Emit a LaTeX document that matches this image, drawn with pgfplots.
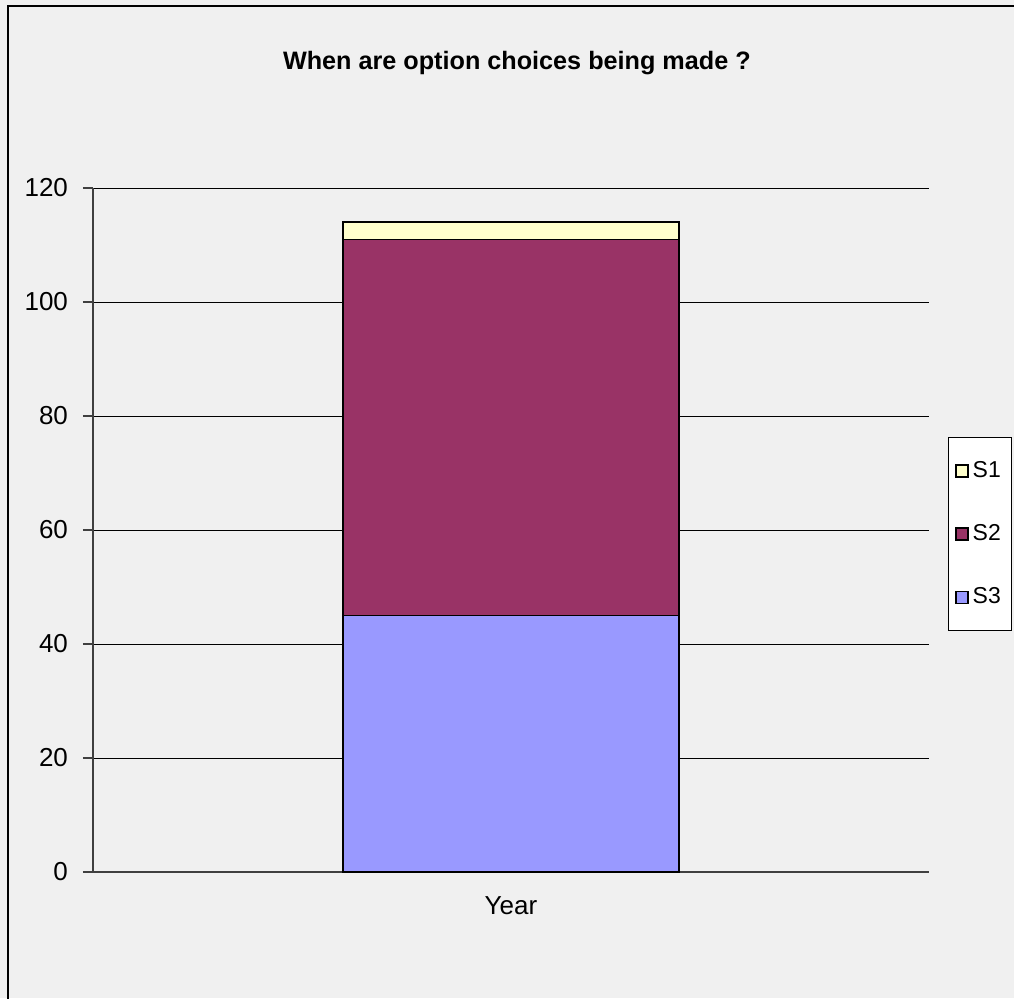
\documentclass[border=0pt]{standalone}
\usepackage{pgfplots}
\pgfplotsset{compat=1.18}
\usepackage{fontspec}
\setmainfont{Liberation Sans}
\definecolor{bg}{HTML}{F0F0F0}
\definecolor{cS1}{HTML}{FFFFCC}
\definecolor{cS2}{HTML}{993366}
\definecolor{cS3}{HTML}{9999FF}
\definecolor{axc}{HTML}{404040}
\begin{document}
\begin{tikzpicture}
\useasboundingbox (-46.5pt,-63pt) rectangle (460.5pt,436pt);
\fill[bg] (-46.5pt,-63pt) rectangle (460.5pt,436pt);
\draw[line width=1.1pt,black] (-42.5pt,-70pt) -- (-42.5pt,433pt) -- (470pt,433pt);
\begin{axis}[
  at={(0pt,0pt)}, anchor=south west,
  scale only axis, width=418pt, height=342pt,
  ybar stacked, bar width=168pt,
  xmin=-0.5, xmax=0.5, ymin=0, ymax=120,
  ytick={0,20,...,120},
  xtick={0}, xticklabels={Year},
  major x tick style={draw=none},
  extra x ticks={-0.5,0.5}, extra x tick labels={},
  extra x tick style={major tick length=9pt, tick style={draw=axc, line width=0.8pt}, tick align=outside},
  axis x line*=bottom, axis y line*=left,
  axis line style={draw=axc, line width=0.8pt, -},
  ymajorgrids, grid style={black, line width=0.5pt},
  tick align=outside, major tick length=5pt,
  y tick style={draw=axc, line width=0.8pt},
  x axis line style={-},
  tick label style={font=\fontsize{13}{15}\selectfont},
  xticklabel style={yshift=-4pt},
  yticklabel style={xshift=-4pt},
  /pgf/number format/assume math mode=true,
  title={\bfseries When are option choices being made ?},
  title style={at={(0.507,1.155)}, anchor=base, inner sep=0pt, font=\fontsize{12.6}{14}\selectfont},
  legend style={at={(1.0227,0.636)}, anchor=north west, draw=black, fill=white,
    font=\fontsize{11.5}{13}\selectfont, row sep=18pt, inner xsep=3.5pt, inner ysep=10pt,
    cells={anchor=west}, line width=0.5pt},
  legend image code/.code={\draw[#1, line width=0.6pt] (0pt,-3pt) rectangle (6pt,3pt);},
  reverse legend,
  every axis plot/.append style={draw=black, line width=0.8pt},
]
\addplot[fill=cS3] coordinates {(0,45)};
\addplot[fill=cS2] coordinates {(0,66)};
\addplot[fill=cS1] coordinates {(0,3)};
\legend{S3,S2,S1}
\end{axis}
\end{tikzpicture}
\end{document}
